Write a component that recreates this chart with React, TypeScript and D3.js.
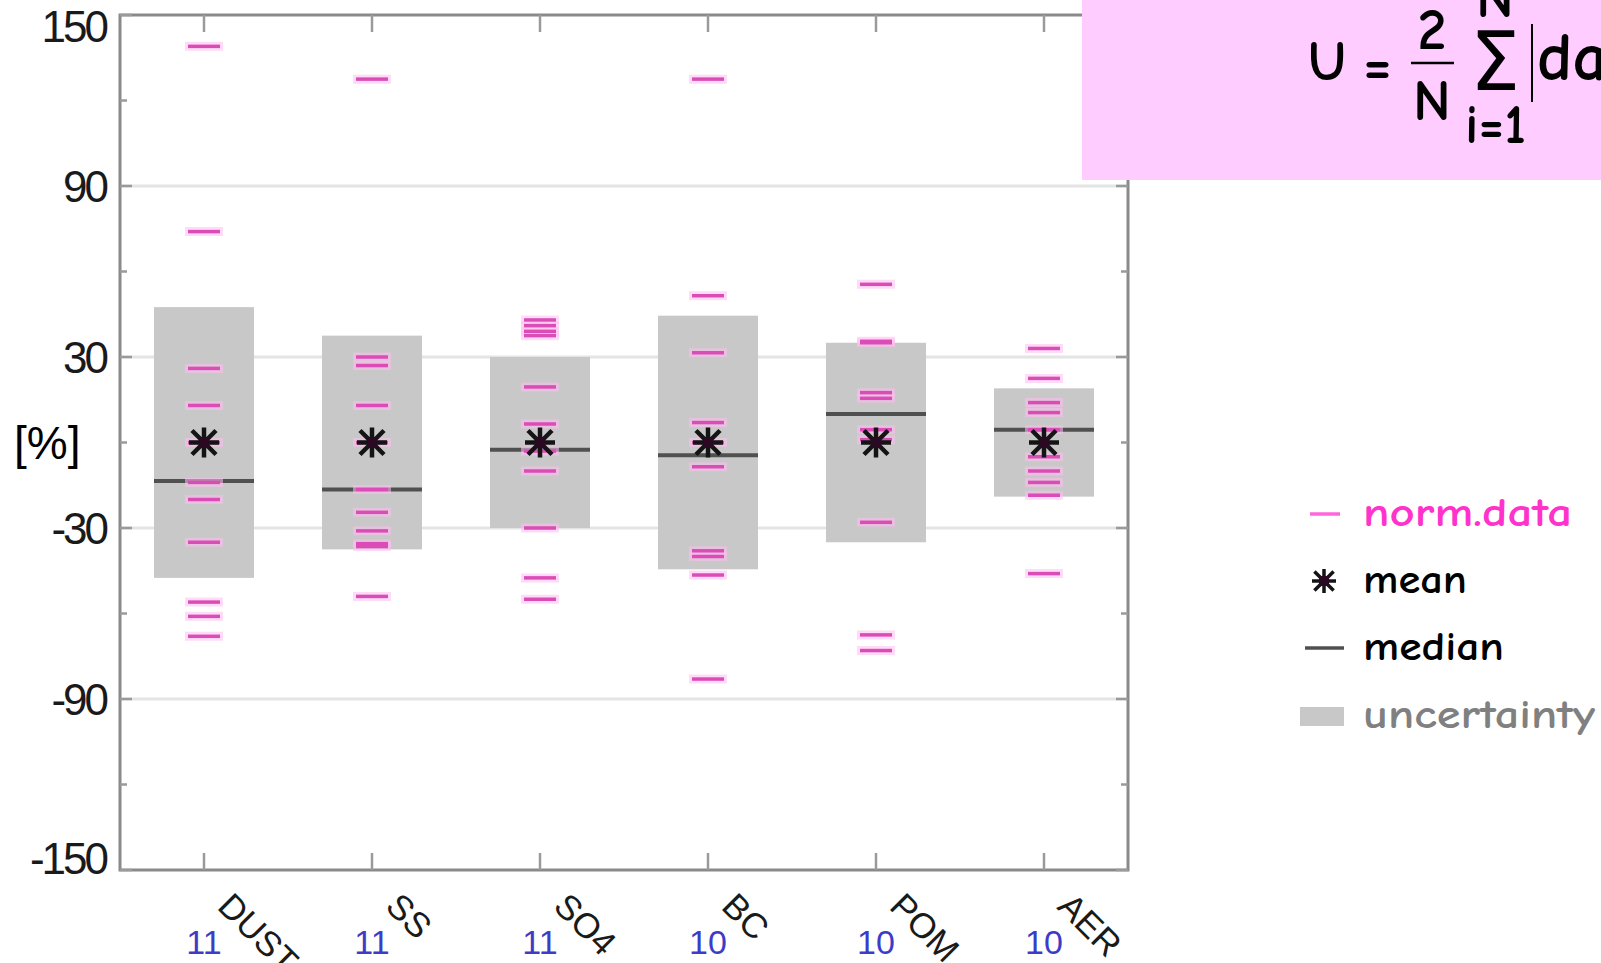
import React, { useEffect, useRef } from 'react';
import * as d3 from 'd3';

// categories along the x axis and the number of models per category
const categories = ['DUST', 'SS', 'SO4', 'BC', 'POM', 'AER'];
const modelCounts = [11, 11, 11, 10, 10, 10];

// normalized model values (%) per category
const normDust = [139, 74, 26, 13, 0, -14, -20, -35, -56, -61, -68];
const normSS = [127.5, 30, 27, 13, 0, -16.5, -24.5, -31, -35.5, -36.5, -54];
const normSO4 = [43, 41, 39, 37.5, 19.5, 6.5, -3, -10, -30, -47.5, -55];
const normBC = [127.5, 51.5, 31.5, 7, 0, -8.5, -38, -40, -46.5, -83];
const normPOM = [55.5, 35.5, 35, 17.5, 15.5, 4.5, 1, -28, -67.5, -73];
const normAER = [33, 22.5, 14, 10.5, 4.5, -5, -10, -14, -18.5, -46];
const normData = [normDust, normSS, normSO4, normBC, normPOM, normAER];

const means = [0, 0, 0, 0, 0, 0];
const medians = [-13.5, -16.5, -2.5, -4.5, 10, 4.5];
const uncertainty = [47.5, 37.5, 30, 44.5, 35, 19];

const yTicks = [150, 90, 30, -30, -90, -150];
const yMinorTicks = [120, 60, 0, -60, -120];
const legendItems = ['norm.data', 'mean', 'median', 'uncertainty'];

const comic = "'Comic Sans MS', 'Comic Neue', Lato, sans-serif";
const sans = "'Liberation Sans', Arial, Helvetica, sans-serif";

const App = () => {
  const svgRef = useRef(null);

  useEffect(() => {
    const svg = d3.select(svgRef.current);
    svg.selectAll('*').remove();

    const width = 1601;
    const plot = { left: 120, right: 1128, top: 15, bottom: 870 };

    const x = d3.scaleBand().domain(categories).range([plot.left, plot.right]).padding(0);
    const cx = (c) => x(c) + x.bandwidth() / 2;
    const y = d3.scaleLinear().domain([-150, 150]).range([plot.bottom, plot.top]);

    const boxW = 100;
    const tickW = 32;

    // gridlines on the labelled ticks
    svg.append('g')
      .selectAll('line')
      .data(yTicks.filter(t => t > -150 && t < 150))
      .join('line')
      .attr('x1', plot.left).attr('x2', plot.right)
      .attr('y1', d => y(d)).attr('y2', d => y(d))
      .attr('stroke', '#e4e4e4')
      .attr('stroke-width', 3);

    // uncertainty boxes
    svg.append('g')
      .selectAll('rect')
      .data(categories)
      .join('rect')
      .attr('x', d => cx(d) - boxW / 2)
      .attr('width', boxW)
      .attr('y', (d, i) => y(means[i] + uncertainty[i]))
      .attr('height', (d, i) => y(means[i] - uncertainty[i]) - y(means[i] + uncertainty[i]))
      .attr('fill', '#c8c8c8');

    // medians
    svg.append('g')
      .selectAll('line')
      .data(categories)
      .join('line')
      .attr('x1', d => cx(d) - boxW / 2)
      .attr('x2', d => cx(d) + boxW / 2)
      .attr('y1', (d, i) => y(medians[i]))
      .attr('y2', (d, i) => y(medians[i]))
      .attr('stroke', '#505050')
      .attr('stroke-width', 4);

    // norm.data dashes, with a soft halo like the original
    const points = categories.flatMap((c, i) => normData[i].map(v => ({ c, v })));
    svg.append('g')
      .selectAll('line')
      .data(points)
      .join('line')
      .attr('x1', d => cx(d.c) - tickW / 2 - 3)
      .attr('x2', d => cx(d.c) + tickW / 2 + 3)
      .attr('y1', d => y(d.v)).attr('y2', d => y(d.v))
      .attr('stroke', '#ffbdf0')
      .attr('stroke-opacity', 0.55)
      .attr('stroke-width', 9);
    svg.append('g')
      .selectAll('line')
      .data(points)
      .join('line')
      .attr('x1', d => cx(d.c) - tickW / 2)
      .attr('x2', d => cx(d.c) + tickW / 2)
      .attr('y1', d => y(d.v)).attr('y2', d => y(d.v))
      .attr('stroke', '#db4db6')
      .attr('stroke-width', 3.5);

    // asterisk marker
    const star = (g, px, py, r, sw) => {
      const d = r * 0.8;
      const p = d3.path();
      p.moveTo(px - r, py); p.lineTo(px + r, py);
      p.moveTo(px, py - r); p.lineTo(px, py + r);
      p.moveTo(px - d, py - d); p.lineTo(px + d, py + d);
      p.moveTo(px - d, py + d); p.lineTo(px + d, py - d);
      g.append('path').attr('d', p.toString())
        .attr('stroke', '#141414').attr('stroke-width', sw).attr('fill', 'none');
      g.append('rect').attr('x', px - 5).attr('y', py - 5).attr('width', 10).attr('height', 10)
        .attr('fill', '#2a0a22');
    };
    const meanG = svg.append('g');
    categories.forEach((c, i) => star(meanG, cx(c), y(means[i]), 15, 4.5));

    // frame
    const axisColor = '#8a8a8a';
    svg.append('rect')
      .attr('x', plot.left).attr('y', plot.top)
      .attr('width', plot.right - plot.left).attr('height', plot.bottom - plot.top)
      .attr('fill', 'none').attr('stroke', axisColor).attr('stroke-width', 3);

    // y ticks on both sides
    const tickG = svg.append('g').attr('stroke', '#9a9a9a').attr('stroke-width', 2.5);
    yTicks.forEach(t => {
      tickG.append('line').attr('x1', plot.left).attr('x2', plot.left + 12).attr('y1', y(t)).attr('y2', y(t));
      tickG.append('line').attr('x1', plot.right - 12).attr('x2', plot.right).attr('y1', y(t)).attr('y2', y(t));
    });
    yMinorTicks.forEach(t => {
      tickG.append('line').attr('x1', plot.left).attr('x2', plot.left + 7).attr('y1', y(t)).attr('y2', y(t));
      tickG.append('line').attr('x1', plot.right - 7).attr('x2', plot.right).attr('y1', y(t)).attr('y2', y(t));
    });
    // category ticks top and bottom
    categories.forEach(c => {
      tickG.append('line').attr('x1', cx(c)).attr('x2', cx(c)).attr('y1', plot.top).attr('y2', plot.top + 17);
      tickG.append('line').attr('x1', cx(c)).attr('x2', cx(c)).attr('y1', plot.bottom - 17).attr('y2', plot.bottom);
    });

    // y tick labels
    svg.append('g')
      .selectAll('text')
      .data(yTicks)
      .join('text')
      .attr('x', plot.left - 14)
      .attr('y', d => Math.min(Math.max(y(d), plot.top + 11), plot.bottom - 12))
      .attr('dy', '0.36em')
      .attr('text-anchor', 'end')
      .attr('font-family', sans)
      .attr('font-size', 44)
      .attr('letter-spacing', -3)
      .attr('fill', '#1a1a1a')
      .text(d => String(d));

    // y axis unit
    svg.append('text')
      .attr('x', 14).attr('y', y(0))
      .attr('dy', '0.36em')
      .attr('font-family', sans)
      .attr('font-size', 46)
      .attr('fill', '#000')
      .text('[%]');

    // category labels, rotated
    svg.append('g')
      .selectAll('text')
      .data(categories)
      .join('text')
      .attr('transform', d => `translate(${cx(d) + 12},${plot.bottom + 38}) rotate(45)`)
      .attr('font-family', sans)
      .attr('font-size', 35)
      .attr('fill', '#1a1a1a')
      .text(d => d);

    // model counts
    svg.append('g')
      .selectAll('text')
      .data(categories)
      .join('text')
      .attr('x', d => cx(d))
      .attr('y', plot.bottom + 84)
      .attr('text-anchor', 'middle')
      .attr('font-family', sans)
      .attr('font-size', 34)
      .attr('fill', '#3c3cc8')
      .text((d, i) => String(modelCounts[i]));

    // formula box
    const fb = svg.append('g');
    fb.append('rect').attr('x', 1082).attr('y', 0).attr('width', width - 1082).attr('height', 180)
      .attr('fill', '#ffccff');
    const ft = (txt, px, py, size, extra = {}) => {
      const t = fb.append('text').attr('x', px).attr('y', py)
        .attr('font-family', comic).attr('font-weight', 700)
        .attr('font-size', size).attr('fill', '#000').text(txt);
      Object.entries(extra).forEach(([k, v]) => t.attr(k, v));
      return t;
    };
    ft('U', 1327, 80, 57, { 'text-anchor': 'middle' });
    ft('=', 1363, 84, 58, { textLength: 29, lengthAdjust: 'spacingAndGlyphs' });
    ft('2', 1432, 49, 58, { 'text-anchor': 'middle' });
    fb.append('line').attr('x1', 1411).attr('x2', 1454).attr('y1', 63).attr('y2', 63)
      .attr('stroke', '#000').attr('stroke-width', 2.5);
    ft('N', 1432, 120, 58, { 'text-anchor': 'middle' });
    ft('N', 1495, 17, 58, { 'text-anchor': 'middle' });
    ft('\u03A3', 1470, 90, 82, { 'font-family': "'DejaVu Sans', sans-serif", 'font-weight': 400, textLength: 50, lengthAdjust: 'spacingAndGlyphs' });
    ft('i=1', 1465, 143, 55, { textLength: 61, lengthAdjust: 'spacingAndGlyphs' });
    fb.append('line').attr('x1', 1532).attr('x2', 1532).attr('y1', 24).attr('y2', 102)
      .attr('stroke', '#000').attr('stroke-width', 2);
    ft('da', 1537, 80, 68);

    // legend
    const lg = svg.append('g');
    const lx = 1363;
    const rows = [514, 581, 648, 716];
    const colors = ['#ff33cc', '#000', '#000', '#808080'];
    const lengths = [209, 104, 141, 232];
    lg.append('line').attr('x1', 1310).attr('x2', 1340).attr('y1', rows[0]).attr('y2', rows[0])
      .attr('stroke', '#ff66dd').attr('stroke-width', 3.5);
    star(lg, 1324, rows[1], 12, 3.5);
    lg.append('line').attr('x1', 1305).attr('x2', 1344).attr('y1', rows[2]).attr('y2', rows[2])
      .attr('stroke', '#505050').attr('stroke-width', 3.5);
    lg.append('rect').attr('x', 1300).attr('y', rows[3] - 9).attr('width', 44).attr('height', 19)
      .attr('fill', '#c8c8c8');
    lg.selectAll('text')
      .data(legendItems)
      .join('text')
      .attr('x', lx)
      .attr('y', (d, i) => rows[i])
      .attr('dy', '0.3em')
      .attr('font-family', comic)
      .attr('font-weight', 900)
      .attr('font-size', 41)
      .attr('fill', (d, i) => colors[i])
      .attr('textLength', (d, i) => lengths[i])
      .attr('lengthAdjust', 'spacingAndGlyphs')
      .text(d => d);
  }, []);

  return (
    <div style={{ position: 'fixed', left: 0, top: 0 }}>
      <svg ref={svgRef} width="1601" height="963" style={{ display: 'block', background: '#fff' }}></svg>
    </div>
  );
};

export default App;
